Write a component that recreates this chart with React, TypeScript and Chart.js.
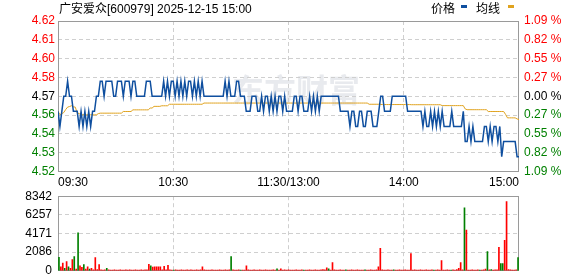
import React, { useEffect, useRef } from 'react';
import { Chart, registerables } from 'chart.js';
Chart.register(...registerables);

const FONT = '"Liberation Sans", Arial, "Noto Sans CJK SC", sans-serif';

const titleText = '广安爱众[600979] 2025-12-15 15:00';
const legendNames = ['价格', '均线'];
const watermarkText = '东方财富';
const prevClose = 4.57;
const pctRange = 1.09;
// bottom -> top
const priceTickLabels = ['4.52', '4.53', '4.54', '4.56', '4.57', '4.58', '4.60', '4.61', '4.62'];
const pctTickLabels = ['1.09 %', '0.82 %', '0.55 %', '0.27 %', '0.00 %', '0.27 %', '0.55 %', '0.82 %', '1.09 %'];
const timeTicks = [0, 60, 120, 180, 240];
const timeLabels = ['09:30', '10:30', '11:30/13:00', '14:00', '15:00'];
const volMax = 8342;
const volTickLabels = ['0', '2086', '4171', '6257', '8342'];

const price = [
  4.56, 4.55, 4.56, 4.57, 4.57, 4.58, 4.57, 4.57, 4.56, 4.56,
  4.56, 4.55, 4.56, 4.55, 4.56, 4.55, 4.56, 4.55, 4.56, 4.56,
  4.57, 4.57, 4.58, 4.58, 4.57, 4.58, 4.58, 4.58, 4.58, 4.57,
  4.57, 4.58, 4.58, 4.58, 4.57, 4.58, 4.58, 4.58, 4.57, 4.58,
  4.58, 4.57, 4.57, 4.57, 4.57, 4.57, 4.58, 4.58, 4.58, 4.57,
  4.57, 4.57, 4.57, 4.57, 4.57, 4.58, 4.57, 4.58, 4.57, 4.58,
  4.58, 4.57, 4.58, 4.57, 4.58, 4.57, 4.58, 4.57, 4.58, 4.58,
  4.57, 4.58, 4.57, 4.58, 4.57, 4.58, 4.57, 4.57, 4.57, 4.57,
  4.57, 4.57, 4.57, 4.57, 4.57, 4.57, 4.57, 4.58, 4.57, 4.58,
  4.57, 4.57, 4.57, 4.58, 4.58, 4.57, 4.57, 4.57, 4.56, 4.56,
  4.56, 4.57, 4.57, 4.57, 4.56, 4.56, 4.57, 4.56, 4.57, 4.57,
  4.56, 4.57, 4.56, 4.57, 4.56, 4.57, 4.57, 4.56, 4.57, 4.56,
  4.56, 4.56, 4.56, 4.57, 4.57, 4.56, 4.57, 4.57, 4.56, 4.56,
  4.56, 4.57, 4.56, 4.57, 4.56, 4.57, 4.56, 4.57, 4.57, 4.57,
  4.57, 4.57, 4.57, 4.57, 4.57, 4.57, 4.57, 4.56, 4.56, 4.56,
  4.56, 4.56, 4.55, 4.56, 4.56, 4.55, 4.55, 4.56, 4.56, 4.55,
  4.55, 4.56, 4.56, 4.56, 4.55, 4.55, 4.55, 4.56, 4.57, 4.57,
  4.56, 4.56, 4.56, 4.56, 4.57, 4.57, 4.57, 4.57, 4.57, 4.57,
  4.57, 4.57, 4.56, 4.56, 4.56, 4.56, 4.56, 4.56, 4.56, 4.56,
  4.55, 4.56, 4.55, 4.55, 4.56, 4.55, 4.56, 4.55, 4.56, 4.55,
  4.56, 4.55, 4.55, 4.55, 4.55, 4.56, 4.55, 4.55, 4.55, 4.55,
  4.55, 4.56, 4.54, 4.54, 4.55, 4.54, 4.55, 4.54, 4.54, 4.54,
  4.54, 4.54, 4.55, 4.55, 4.54, 4.55, 4.54, 4.55, 4.55, 4.54,
  4.55, 4.53, 4.54, 4.54, 4.54, 4.54, 4.54, 4.54, 4.54, 4.53,
  4.53,
];

const avgPrice = [
  4.5600, 4.5578, 4.5585, 4.5592, 4.5612, 4.5628, 4.5632, 4.5637, 4.5630, 4.5628,
  4.5590, 4.5585, 4.5578, 4.5577, 4.5577, 4.5577, 4.5577, 4.5577, 4.5577, 4.5577,
  4.5577, 4.5585, 4.5588, 4.5588, 4.5588, 4.5588, 4.5588, 4.5588, 4.5588, 4.5588,
  4.5588, 4.5588, 4.5588, 4.5588, 4.5599, 4.5599, 4.5599, 4.5599, 4.5599, 4.5610,
  4.5610, 4.5610, 4.5610, 4.5610, 4.5610, 4.5610, 4.5610, 4.5610, 4.5622, 4.5622,
  4.5633, 4.5633, 4.5633, 4.5633, 4.5637, 4.5637, 4.5637, 4.5637, 4.5647, 4.5647,
  4.5647, 4.5647, 4.5647, 4.5647, 4.5647, 4.5647, 4.5647, 4.5647, 4.5647, 4.5647,
  4.5647, 4.5647, 4.5647, 4.5647, 4.5647, 4.5647, 4.5655, 4.5655, 4.5655, 4.5655,
  4.5655, 4.5655, 4.5655, 4.5655, 4.5655, 4.5655, 4.5655, 4.5655, 4.5655, 4.5655,
  4.5655, 4.5655, 4.5655, 4.5655, 4.5655, 4.5655, 4.5655, 4.5655, 4.5655, 4.5655,
  4.5655, 4.5655, 4.5655, 4.5655, 4.5655, 4.5655, 4.5655, 4.5655, 4.5655, 4.5655,
  4.5655, 4.5655, 4.5655, 4.5655, 4.5655, 4.5655, 4.5655, 4.5655, 4.5655, 4.5655,
  4.5655, 4.5655, 4.5655, 4.5655, 4.5655, 4.5655, 4.5655, 4.5655, 4.5655, 4.5655,
  4.5655, 4.5655, 4.5655, 4.5655, 4.5655, 4.5655, 4.5655, 4.5655, 4.5655, 4.5655,
  4.5655, 4.5655, 4.5655, 4.5655, 4.5655, 4.5655, 4.5655, 4.5655, 4.5655, 4.5655,
  4.5655, 4.5655, 4.5655, 4.5655, 4.5655, 4.5655, 4.5655, 4.5655, 4.5655, 4.5655,
  4.5655, 4.5655, 4.5647, 4.5647, 4.5647, 4.5647, 4.5647, 4.5647, 4.5646, 4.5645,
  4.5645, 4.5645, 4.5645, 4.5645, 4.5645, 4.5645, 4.5645, 4.5645, 4.5645, 4.5645,
  4.5645, 4.5645, 4.5645, 4.5645, 4.5644, 4.5644, 4.5644, 4.5644, 4.5644, 4.5644,
  4.5644, 4.5644, 4.5644, 4.5644, 4.5644, 4.5644, 4.5644, 4.5644, 4.5644, 4.5644,
  4.5638, 4.5638, 4.5638, 4.5638, 4.5638, 4.5638, 4.5638, 4.5638, 4.5638, 4.5638,
  4.5638, 4.5638, 4.5616, 4.5611, 4.5611, 4.5611, 4.5611, 4.5611, 4.5611, 4.5611,
  4.5611, 4.5611, 4.5611, 4.5611, 4.5599, 4.5599, 4.5599, 4.5599, 4.5599, 4.5599,
  4.5599, 4.5599, 4.5599, 4.5580, 4.5557, 4.5557, 4.5557, 4.5557, 4.5557, 4.5550,
  4.5545,
];

const volume = [
  1517, 455, 872, 265, 1024, 455, 265, 1251, 1593, 190,
  4247, 569, 379, 683, 190, 455, 190, 265, 110, 1479,
  150, 683, 110, 90, 100, 265, 120, 90, 80, 100,
  90, 80, 100, 90, 80, 100, 90, 100, 80, 90,
  100, 90, 80, 100, 90, 100, 110, 720, 569, 417,
  455, 455, 455, 455, 120, 493, 110, 607, 100, 90,
  90, 100, 80, 90, 100, 90, 80, 100, 90, 100,
  90, 80, 100, 90, 110, 455, 100, 90, 80, 90,
  100, 90, 80, 90, 100, 90, 80, 100, 90, 110,
  1593, 100, 90, 80, 100, 90, 80, 90, 569, 100,
  90, 80, 100, 90, 80, 100, 90, 80, 100, 90,
  80, 90, 100, 90, 230, 80, 230, 90, 100, 90,
  100, 90, 80, 90, 100, 80, 90, 100, 90, 80,
  90, 100, 80, 90, 100, 90, 80, 100, 150, 110,
  341, 230, 90, 910, 100, 90, 80, 100, 90, 80,
  120, 90, 80, 100, 90, 80, 100, 90, 80, 90,
  100, 90, 80, 100, 90, 80, 120, 455, 2503, 100,
  90, 80, 100, 90, 80, 100, 90, 80, 100, 90,
  80, 100, 90, 80, 1934, 90, 100, 80, 90, 100,
  90, 80, 100, 90, 80, 100, 90, 80, 100, 90,
  1138, 90, 80, 100, 90, 80, 100, 90, 150, 265,
  910, 100, 7052, 4550, 90, 80, 100, 90, 80, 100,
  90, 80, 100, 190, 2162, 120, 150, 90, 100, 110,
  2616, 796, 796, 3413, 7735, 150, 100, 90, 80, 100,
  1479,
];

// minutes whose volume bar is green (down)
const volGreenMinutes = [0, 3, 5, 8, 10, 13, 16, 25, 48, 60, 90, 95, 114, 128, 141, 150, 160, 175, 196, 205, 212, 220, 224, 226, 231, 232, 240];

const RED = '#ff0000';
const GREEN = '#008000';
const DARK = '#000000';
const GRID = '#cfcfcf';
const FRAME = '#9a9a9a';
const BLUE = '#0f4f9f';
const GOLD = '#e0a31f';

const framePlugin = {
  id: 'frame',
  beforeDatasetsDraw(chart: any) {
    const { ctx, chartArea: a } = chart;
    ctx.save();
    ctx.strokeStyle = FRAME;
    ctx.lineWidth = 1;
    ctx.setLineDash([]);
    ctx.strokeRect(Math.round(a.left) + 0.5, Math.round(a.top) + 0.5, Math.round(a.right - a.left) - 1, Math.round(a.bottom - a.top) - 1);
    ctx.restore();
  },
};

const headerPlugin = {
  id: 'header',
  beforeDraw(chart: any) {
    const { ctx } = chart;
    ctx.save();
    ctx.font = 'bold 32px "Noto Sans CJK SC", sans-serif';
    ctx.fillStyle = '#e8eaee';
    ctx.textBaseline = 'middle';
    ctx.textAlign = 'left';
    ctx.fillText(watermarkText, 232, 90);
    ctx.restore();
  },
  afterDraw(chart: any) {
    const { ctx } = chart;
    ctx.save();
    ctx.font = '12px ' + FONT;
    ctx.fillStyle = '#000';
    ctx.textBaseline = 'middle';
    ctx.textAlign = 'left';
    ctx.fillText(titleText, 59, 9.5);
    ctx.fillText(legendNames[0], 431, 9.5);
    ctx.fillText(legendNames[1], 476, 9.5);
    ctx.fillStyle = BLUE;
    ctx.fillRect(461, 5, 6, 3);
    ctx.fillStyle = GOLD;
    ctx.fillRect(508, 5, 6, 3);
    ctx.restore();
  },
};

export default function App() {
  const priceRef = useRef<HTMLCanvasElement>(null);
  const volRef = useRef<HTMLCanvasElement>(null);

  useEffect(() => {
    Chart.defaults.font.family = FONT;
    Chart.defaults.font.size = 12;
    const yMin = prevClose * (1 - pctRange / 100);
    const yMax = prevClose * (1 + pctRange / 100);
    const priceTickVals = priceTickLabels.map((_, k) => yMin + (k * (yMax - yMin)) / (priceTickLabels.length - 1));
    const labelColor = (i: number) => (i < 4 ? GREEN : i === 4 ? DARK : RED);
    const lastP = priceTickLabels.length - 1;

    const priceChart = new Chart(priceRef.current!, {
      type: 'line',
      data: {
        datasets: [
          {
            label: legendNames[0],
            data: price.map((p, i) => ({ x: i, y: p })),
            borderColor: BLUE,
            borderWidth: 1.5,
            pointRadius: 0,
            fill: false,
            tension: 0,
          },
          {
            label: legendNames[1],
            data: avgPrice.map((p, i) => ({ x: i, y: p })),
            borderColor: GOLD,
            borderWidth: 1,
            pointRadius: 0,
            fill: false,
            tension: 0,
          },
        ],
      },
      options: {
        responsive: false,
        animation: false,
        events: [],
        layout: { padding: { top: 21, left: 0, right: 0, bottom: 0 } },
        plugins: { legend: { display: false }, tooltip: { enabled: false }, title: { display: false } },
        scales: {
          x: {
            type: 'linear',
            min: 0,
            max: 240,
            afterBuildTicks: (s: any) => {
              s.ticks = timeTicks.map((v) => ({ value: v }));
            },
            afterFit: (s: any) => {
              s.height = 18.5;
            },
            ticks: {
              callback: (_v: any, i: number) => timeLabels[i],
              align: 'inner',
              maxRotation: 0,
              autoSkip: false,
              padding: 4,
              color: DARK,
            },
            grid: {
              drawTicks: false,
              color: (c: any) => (c.index === 0 || c.index === timeTicks.length - 1 ? 'rgba(0,0,0,0)' : GRID),
            },
            border: { display: false, dash: [4, 3] },
          },
          y: {
            type: 'linear',
            position: 'left',
            min: yMin,
            max: yMax,
            afterBuildTicks: (s: any) => {
              s.ticks = priceTickVals.map((v) => ({ value: v }));
            },
            afterFit: (s: any) => {
              s.width = 58;
            },
            ticks: {
              callback: (_v: any, i: number) => priceTickLabels[i],
              color: (c: any) => labelColor(c.index),
              padding: 3,
              autoSkip: false,
            },
            grid: {
              drawTicks: false,
              color: (c: any) => (c.index === 0 || c.index === lastP ? 'rgba(0,0,0,0)' : GRID),
            },
            border: { display: false, dash: [4, 3] },
          },
          y2: {
            type: 'linear',
            position: 'right',
            min: yMin,
            max: yMax,
            afterBuildTicks: (s: any) => {
              s.ticks = priceTickVals.map((v) => ({ value: v }));
            },
            afterFit: (s: any) => {
              s.width = 59;
            },
            ticks: {
              callback: (_v: any, i: number) => pctTickLabels[i],
              color: (c: any) => labelColor(c.index),
              padding: 5,
              autoSkip: false,
            },
            grid: { display: false, drawTicks: false },
            border: { display: false },
          },
        },
      } as any,
      plugins: [framePlugin, headerPlugin],
    });

    const volTickVals = volTickLabels.map((_, k) => (volMax * k) / (volTickLabels.length - 1));
    const lastV = volTickLabels.length - 1;
    const volChart = new Chart(volRef.current!, {
      type: 'bar',
      data: {
        datasets: [
          {
            data: volume.map((v, i) => ({ x: i, y: v })),
            backgroundColor: volume.map((_, i) => (volGreenMinutes.includes(i) ? GREEN : RED)),
            barThickness: 1,
            borderWidth: 0,
          },
        ],
      },
      options: {
        responsive: false,
        animation: false,
        events: [],
        layout: { padding: { top: 0, left: 0, right: 59, bottom: 0 } },
        plugins: { legend: { display: false }, tooltip: { enabled: false } },
        scales: {
          x: {
            type: 'linear',
            min: -0.5,
            max: 240.5,
            offset: false,
            afterBuildTicks: (s: any) => {
              s.ticks = timeTicks.slice(1, -1).map((v) => ({ value: v }));
            },
            afterFit: (s: any) => {
              s.height = 0;
            },
            ticks: { display: false },
            grid: { drawTicks: false, color: GRID, offset: false },
            border: { display: false, dash: [4, 3] },
          },
          y: {
            type: 'linear',
            min: 0,
            max: volMax,
            afterBuildTicks: (s: any) => {
              s.ticks = volTickVals.map((v) => ({ value: v }));
            },
            afterFit: (s: any) => {
              s.width = 58;
            },
            ticks: {
              callback: (_v: any, i: number) => volTickLabels[i],
              color: DARK,
              padding: 6,
              autoSkip: false,
            },
            grid: {
              drawTicks: false,
              color: (c: any) => (c.index === 0 || c.index === lastV ? 'rgba(0,0,0,0)' : GRID),
            },
            border: { display: false, dash: [4, 3] },
          },
        },
      } as any,
      plugins: [framePlugin],
    });

    return () => {
      priceChart.destroy();
      volChart.destroy();
    };
  }, []);

  return (
    <div style={{ position: 'absolute', left: 0, top: 0, width: 578, height: 276, overflow: 'hidden', background: '#fff' }}>
      <canvas ref={priceRef} width={578} height={190} style={{ position: 'absolute', left: 0, top: 0, display: 'block' }} />
      <canvas ref={volRef} width={578} height={101} style={{ position: 'absolute', left: 0, top: 183, display: 'block' }} />
    </div>
  );
}
